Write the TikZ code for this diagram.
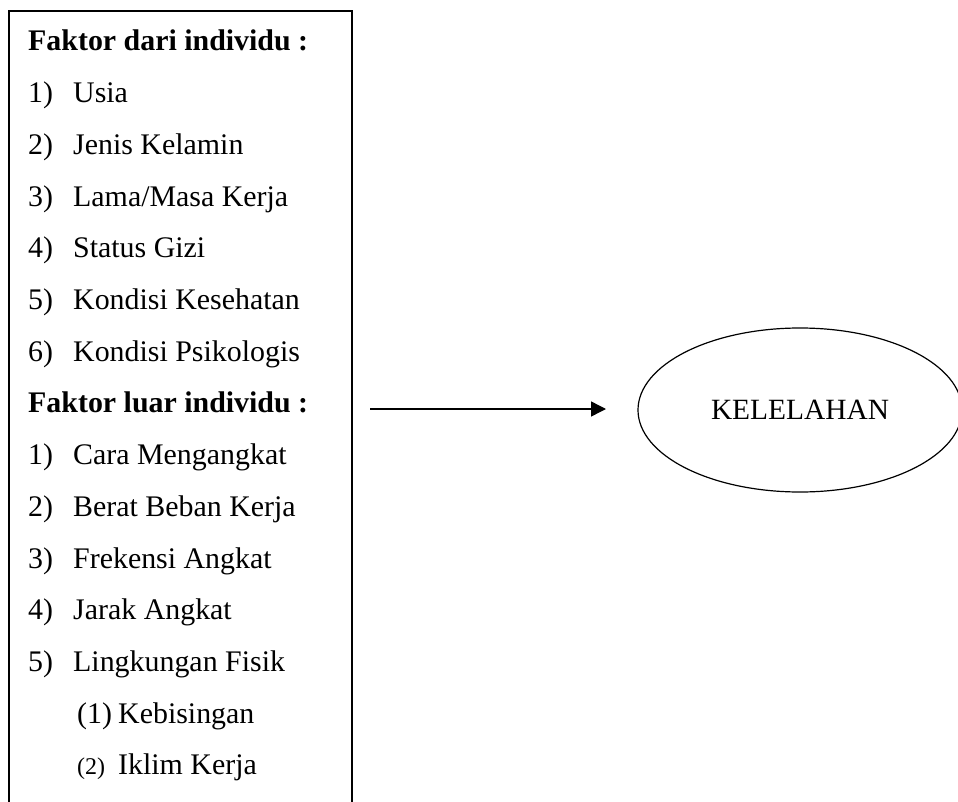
\documentclass[tikz,border=0pt]{standalone}
\usepackage{fontspec}
\setmainfont{Liberation Serif}
\usetikzlibrary{arrows.meta,shapes.geometric}
\tikzset{
  txt/.style={anchor=base west, inner sep=0pt, font=\fontsize{29.9}{34}\selectfont},
  btxt/.style={txt, font=\fontsize{29.9}{34}\selectfont\bfseries},
  stxt/.style={anchor=base west, inner sep=0pt, font=\fontsize{24}{28}\selectfont},
  frame/.style={line width=1.2pt},
  conn/.style={line width=1.4pt, -{Triangle[length=15pt,width=15pt]}},
  oval/.style={draw, ellipse, line width=1.2pt, minimum width=324pt, minimum height=164pt, inner sep=0pt, font=\fontsize{29.4}{34}\selectfont}
}
\begin{document}
\begin{tikzpicture}[x=1pt,y=-1pt]
\useasboundingbox (0,0) rectangle (958,802);
\draw[frame] (9,803) -- (9,11) -- (352,11) -- (352,803);
\def\base{51}
\def\gap{51.7}
\node[btxt] (h1) at (28,\base) {Faktor dari individu :};
\foreach \i/\n/\t in {1/1)/Usia,2/2)/Jenis Kelamin,3/3)/Lama\slash Masa Kerja,4/4)/Status Gizi,5/5)/Kondisi Kesehatan,6/6)/Kondisi Psikologis}{
  \node[txt] (an\i) at (28,{\base+\gap*\i}) {\n};
  \node[txt] (a\i) at (73,{\base+\gap*\i}) {\t};
}
\node[btxt] (h2) at (28,{\base+\gap*7}) {Faktor luar individu :};
\foreach \i/\n/\t in {1/1)/Cara Mengangkat,2/2)/Berat Beban Kerja,3/3)/Frekensi Angkat,4/4)/Jarak Angkat,5/5)/Lingkungan Fisik}{
  \node[txt] (bn\i) at (28,{\base+\gap*(7+\i)}) {\n};
  \node[txt] (b\i) at (73,{\base+\gap*(7+\i)}) {\t};
}
\node[txt] (cn1) at (77,{\base+\gap*13}) {(1)};
\node[txt] (c1) at (118,{\base+\gap*13}) {Kebisingan};
\node[stxt] (cn2) at (77,{\base+\gap*14}) {(2)};
\node[txt] (c2) at (118,{\base+\gap*14}) {Iklim Kerja};
\node[oval] (k) at (800,410) {KELELAHAN};
\coordinate (s) at (370,409);
\coordinate (e) at (606,409);
\draw[conn] (s) -- (e);
\end{tikzpicture}
\end{document}
